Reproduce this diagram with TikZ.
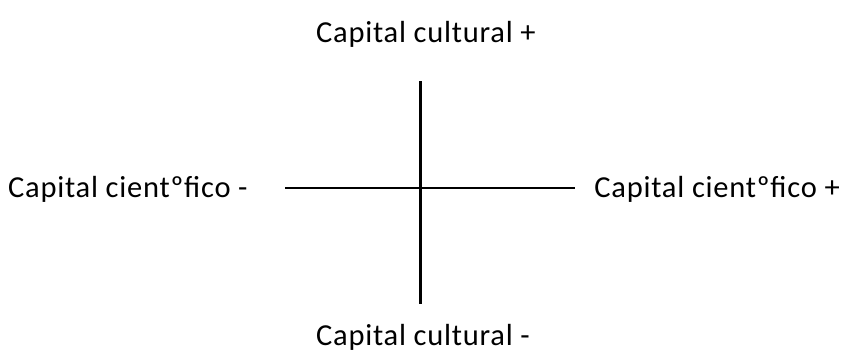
\documentclass[tikz,border=0pt]{standalone}
\usepackage{fontspec}
\setmainfont[LetterSpace=2.5]{Carlito}
\begin{document}
\begin{tikzpicture}[x=1pt,y=-1pt,
  lbl/.style={font=\fontsize{30.5}{35}\selectfont, inner sep=0pt, text=black},
  axis/.style={line width=2.2pt, black}]
\useasboundingbox (0,0) rectangle (845,354);
\coordinate (vt) at (420.5,81);
\coordinate (vb) at (420.5,304);
\coordinate (hl) at (285,188);
\coordinate (hr) at (575,188);
\draw[axis] (vt) -- (vb);
\draw[axis] (hl) -- (hr);
\node[lbl, anchor=base] (top) at (426,42) {Capital cultural +};
\node[lbl, anchor=base] (bot) at (423,345) {Capital cultural -};
\node[lbl, anchor=base west] (left) at (8,197) {Capital cientºfico -};
\node[lbl, anchor=base east] (right) at (840,197) {Capital cientºfico +};
\end{tikzpicture}
\end{document}
